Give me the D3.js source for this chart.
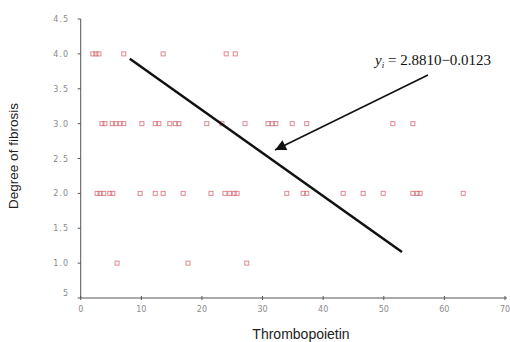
<!DOCTYPE html>
<html lang="en">
<head>
    <meta charset="UTF-8">
    <title>Degree of fibrosis vs Thrombopoietin</title>
    <script src="https://cdnjs.cloudflare.com/ajax/libs/d3/7.9.0/d3.min.js"></script>
    <style>
        body { margin: 0; background: white; }
        svg { display: block; }
    </style>
</head>
<body>
    <svg width="510" height="342"></svg>
    <script>
        // fibrosis grade 4.0
        const tpoGrade4 = [2.0, 2.5, 3.0, 7.1, 13.6, 24.0, 25.5];
        // fibrosis grade 3.0
        const tpoGrade3 = [3.5, 4.0, 5.2, 5.8, 6.5, 7.1, 10.1, 12.3, 12.9, 14.7, 15.6, 16.2,
                           20.8, 23.3, 27.1, 30.9, 31.6, 32.2, 34.9, 37.3, 51.5, 54.8];
        // fibrosis grade 2.0
        const tpoGrade2 = [2.7, 3.2, 3.8, 4.8, 5.3, 9.8, 12.3, 13.6, 16.9, 21.5, 23.8, 24.6,
                           25.3, 25.8, 34.0, 36.7, 37.3, 43.3, 46.6, 49.9, 54.8, 55.5, 56.0, 63.1];
        // fibrosis grade 1.0
        const tpoGrade1 = [6.0, 17.7, 27.4];

        const xTicks = [0, 10, 20, 30, 40, 50, 60, 70];
        const yTicks = [0.5, 1.0, 1.5, 2.0, 2.5, 3.0, 3.5, 4.0, 4.5];
        const yTickLabels = ["5", "1.0", "1.5", "2.0", "2.5", "3.0", "3.5", "4.0", "4.5"];

        // hand drawn regression line (data units)
        const fitLine = [{x: 8.1, y: 3.93}, {x: 53.0, y: 1.16}];
        const equation = "2.8810\u22120.0123";

        const svg = d3.select("svg");

        const x = d3.scaleLinear().domain([0, 70]).range([80.7, 505]);
        const y = d3.scaleLinear().domain([0.5, 4.5]).range([298, 19]);

        const points = [
            ...tpoGrade4.map(v => ({x: v, y: 4.0})),
            ...tpoGrade3.map(v => ({x: v, y: 3.0})),
            ...tpoGrade2.map(v => ({x: v, y: 2.0})),
            ...tpoGrade1.map(v => ({x: v, y: 1.0}))
        ];

        // axes
        const axisColor = "#555";
        svg.append("line")
            .attr("x1", x(0)).attr("x2", x(0))
            .attr("y1", y(4.5)).attr("y2", y(0.5))
            .attr("stroke", axisColor).attr("stroke-width", 1);
        svg.append("line")
            .attr("x1", x(0)).attr("x2", 507)
            .attr("y1", y(0.5)).attr("y2", y(0.5))
            .attr("stroke", axisColor).attr("stroke-width", 1);

        svg.selectAll(".ytick")
            .data(yTicks)
            .enter().append("line")
            .attr("x1", x(0) - 3).attr("x2", x(0))
            .attr("y1", d => y(d)).attr("y2", d => y(d))
            .attr("stroke", axisColor);

        svg.selectAll(".xtick")
            .data(xTicks)
            .enter().append("line")
            .attr("x1", d => x(d)).attr("x2", d => x(d))
            .attr("y1", y(0.5) - 2).attr("y2", y(0.5) + 2)
            .attr("stroke", axisColor);

        svg.selectAll(".ylabel")
            .data(yTicks)
            .enter().append("text")
            .attr("x", 69)
            .attr("y", (d, i) => y(d) + (i === 0 ? -2 : 3))
            .attr("text-anchor", "end")
            .attr("font-family", "DejaVu Sans, sans-serif")
            .attr("font-size", "8px")
            .attr("letter-spacing", "1px")
            .attr("fill", "#8a8a8a")
            .text((d, i) => yTickLabels[i]);

        svg.selectAll(".xlabel")
            .data(xTicks)
            .enter().append("text")
            .attr("x", d => x(d))
            .attr("y", 312)
            .attr("text-anchor", "middle")
            .attr("font-family", "DejaVu Sans, sans-serif")
            .attr("font-size", "8px")
            .attr("fill", "#8a8a8a")
            .text(d => d);

        // titles
        svg.append("text")
            .attr("transform", "translate(18,156) rotate(-90)")
            .attr("text-anchor", "middle")
            .attr("font-family", "Liberation Sans, Arial, sans-serif")
            .attr("font-size", "13.5px")
            .attr("fill", "#222")
            .text("Degree of fibrosis");

        svg.append("text")
            .attr("x", 301).attr("y", 339)
            .attr("text-anchor", "middle")
            .attr("font-family", "Liberation Sans, Arial, sans-serif")
            .attr("font-size", "14px")
            .attr("fill", "#222")
            .text("Thrombopoietin");

        // data markers
        svg.selectAll(".pt")
            .data(points)
            .enter().append("rect")
            .attr("x", d => x(d.x) - 2)
            .attr("y", d => y(d.y) - 2)
            .attr("width", 4).attr("height", 4)
            .attr("fill", "none")
            .attr("stroke", "#d4606a")
            .attr("stroke-opacity", 0.75)
            .attr("stroke-width", 1);

        // regression line
        svg.append("line")
            .attr("x1", x(fitLine[0].x)).attr("y1", y(fitLine[0].y))
            .attr("x2", x(fitLine[1].x)).attr("y2", y(fitLine[1].y))
            .attr("stroke", "#111").attr("stroke-width", 2.5);

        // arrow pointing to the line
        svg.append("defs").append("marker")
            .attr("id", "head")
            .attr("viewBox", "0 0 10 10")
            .attr("refX", 10).attr("refY", 5)
            .attr("markerWidth", 14).attr("markerHeight", 11)
            .attr("markerUnits", "userSpaceOnUse")
            .attr("orient", "auto")
            .append("path")
            .attr("d", "M0,0 L10,5 L0,10 Z")
            .attr("fill", "#111");

        svg.append("line")
            .attr("x1", 428).attr("y1", 75)
            .attr("x2", 275).attr("y2", 150)
            .attr("stroke", "#111").attr("stroke-width", 1.6)
            .attr("marker-end", "url(#head)");

        // equation label
        const eq = svg.append("text")
            .attr("x", 375).attr("y", 65)
            .attr("font-family", "Liberation Serif, Times New Roman, serif")
            .attr("font-size", "15px")
            .attr("fill", "#111");
        eq.append("tspan").attr("font-style", "italic").text("y");
        eq.append("tspan").attr("font-style", "italic").attr("font-size", "9px").attr("dy", 3).text("i");
        eq.append("tspan").attr("dy", -3).text(" = " + equation);
    </script>
</body>
</html>
